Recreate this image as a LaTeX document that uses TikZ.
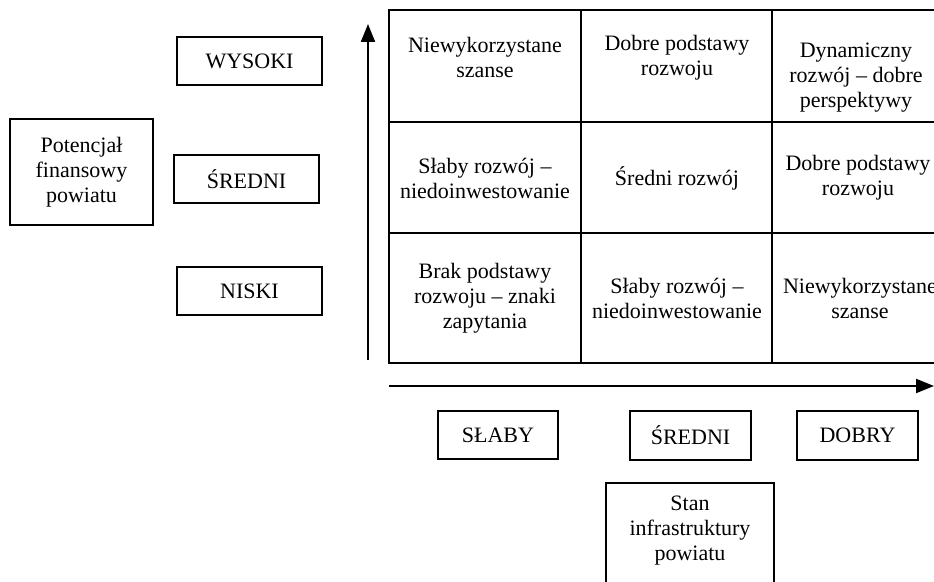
\documentclass[tikz,border=0pt]{standalone}
\usepackage{fontspec}
\setmainfont{Liberation Serif}
\usetikzlibrary{arrows.meta}
\tikzset{
  lbl/.style={font=\fontsize{11}{12.5}\selectfont, align=center, inner sep=0pt},
  framebox/.style={draw, line width=0.7pt, inner sep=0pt, font=\fontsize{11}{12.5}\selectfont, align=center},
  gridline/.style={line width=1pt},
  axis/.style={line width=1pt, -{Triangle[length=9pt,width=7pt]}}
}
\begin{document}
\begin{tikzpicture}[x=0.5pt,y=-0.5pt]
\path[use as bounding box] (0,0) rectangle (934,582);
\clip (0,0) rectangle (934,582);
% left boxes
\node[framebox, minimum width=71.5pt, minimum height=53pt] (pot) at (81.5,172) {Potencjał\\finansowy\\powiatu};
\node[framebox, minimum width=72.5pt, minimum height=24pt] (wys) at (249.5,61) {WYSOKI};
\node[framebox, minimum width=72.5pt, minimum height=24pt] (sre) at (246.5,179) {ŚREDNI};
\node[framebox, minimum width=72.5pt, minimum height=24pt] (nis) at (249.5,291) {NISKI};
% bottom boxes
\node[framebox, minimum width=60pt, minimum height=24pt] (slab) at (498,435) {SŁABY};
\node[framebox, minimum width=60.5pt, minimum height=24.5pt] (sreb) at (690.5,435.5) {ŚREDNI};
\node[framebox, minimum width=60.5pt, minimum height=24.5pt] (dob) at (857.5,435.5) {DOBRY};
\node[draw, line width=0.7pt, minimum width=84pt, minimum height=60pt, inner sep=0pt] (stanbox) at (690,543) {};
\node[lbl] (stan) at (690,531) {Stan\\infrastruktury\\powiatu};
% grid
\draw[gridline] (389,10) rectangle (960,363);
\draw[gridline] (581,10) -- (581,363);
\draw[gridline] (772,10) -- (772,363);
\draw[gridline] (389,122) -- (960,122);
\draw[gridline] (389,233) -- (960,233);
% cell texts
\node[lbl] (c11) at (485,57) {Niewykorzystane\\szanse};
\node[lbl] (c12) at (677,58) {Dobre podstawy\\rozwoju};
\node[lbl] (c13) at (856,78) {Dynamiczny\\rozwój – dobre\\perspektywy};
\node[lbl] (c21) at (485,178) {Słaby rozwój –\\niedoinwestowanie};
\node[lbl] (c22) at (677,178) {Średni rozwój};
\node[lbl] (c23) at (858,178) {Dobre podstawy\\rozwoju};
\node[lbl] (c31) at (485,298) {Brak podstawy\\rozwoju – znaki\\zapytania};
\node[lbl] (c32) at (677,298) {Słaby rozwój –\\niedoinwestowanie};
\node[lbl] (c33) at (860,298) {Niewykorzystane\\szanse};
% axes
\coordinate (va) at (368,360);
\coordinate (vb) at (368,24);
\coordinate (ha) at (389,386);
\coordinate (hb) at (934,386);
\draw[axis] (va) -- (vb);
\draw[axis] (ha) -- (hb);
\end{tikzpicture}
\end{document}
